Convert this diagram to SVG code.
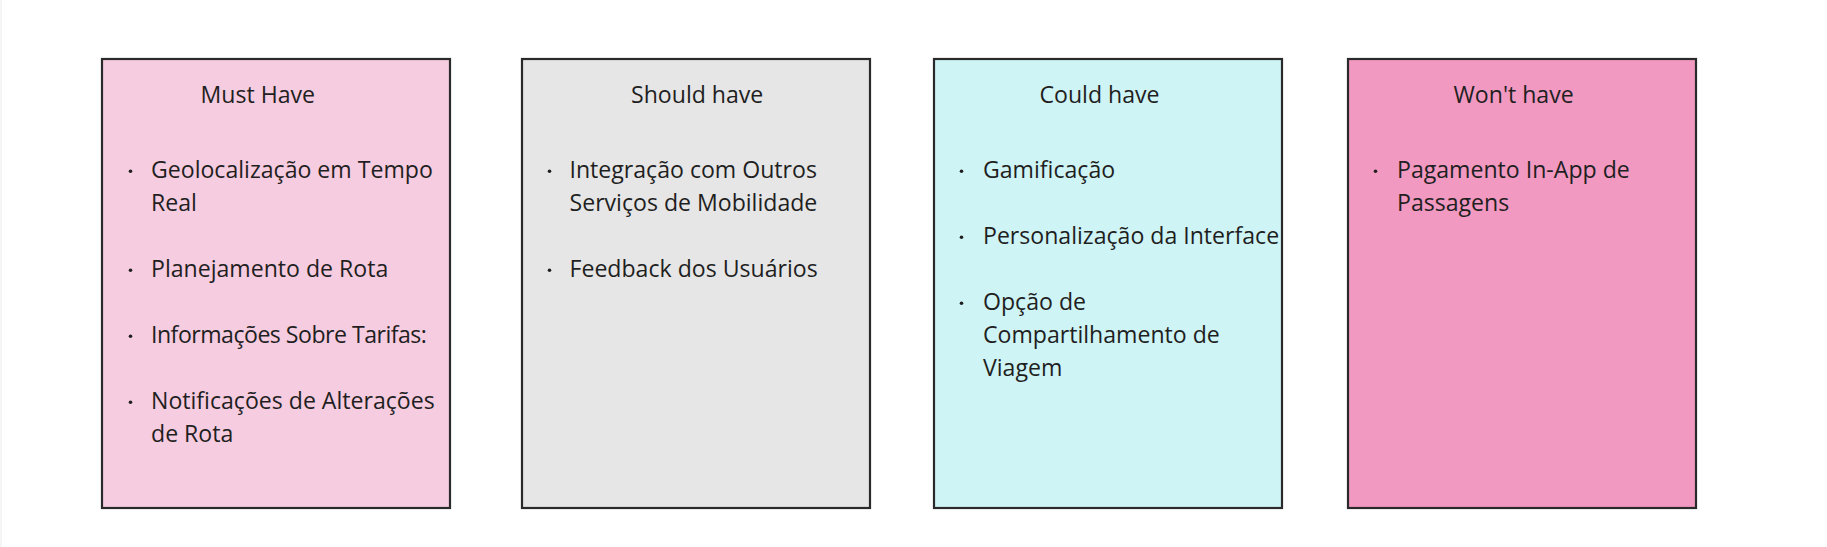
<svg xmlns="http://www.w3.org/2000/svg" width="1827" height="547" viewBox="0 0 1827 547">
<style>
.box{stroke:#2a2a2a;stroke-width:2.2}
.t{font-family:"Open Sans","Noto Sans","Liberation Sans",sans-serif;font-size:23.1px;fill:#1f1f1f}
.b{fill:#1f1f1f}
</style>
<rect x="0" y="0" width="1827" height="547" fill="#ffffff"/>
<line x1="1" y1="0" x2="1" y2="547" stroke="#ececec" stroke-width="1"/>
<g id="must-have">
<rect class="box" x="102" y="59" width="348" height="449" fill="#f6cce0"/>
<text class="t" x="200.5" y="103">Must Have</text>
<circle class="b" cx="130.5" cy="171.3" r="1.8"/>
<text class="t" x="151"><tspan x="151" y="178">Geolocalização em Tempo</tspan><tspan x="151" y="211">Real</tspan></text>
<circle class="b" cx="130.5" cy="270.3" r="1.8"/>
<text class="t" x="151" y="277">Planejamento de Rota</text>
<circle class="b" cx="130.5" cy="336.3" r="1.8"/>
<text class="t" x="151" y="343" style="letter-spacing:-0.5px">Informações Sobre Tarifas:</text>
<circle class="b" cx="130.5" cy="402.3" r="1.8"/>
<text class="t" x="151"><tspan x="151" y="409">Notificações de Alterações</tspan><tspan x="151" y="442">de Rota</tspan></text>
</g>
<g id="should-have">
<rect class="box" x="522" y="59" width="348" height="449" fill="#e6e6e6"/>
<text class="t" x="631" y="103">Should have</text>
<circle class="b" cx="549.5" cy="171.3" r="1.8"/>
<text class="t" x="569.5"><tspan x="569.5" y="178">Integração com Outros</tspan><tspan x="569.5" y="211">Serviços de Mobilidade</tspan></text>
<circle class="b" cx="549.5" cy="270.3" r="1.8"/>
<text class="t" x="569.5" y="277">Feedback dos Usuários</text>
</g>
<g id="could-have">
<rect class="box" x="934" y="59" width="348" height="449" fill="#cff4f5"/>
<text class="t" x="1039.5" y="103">Could have</text>
<circle class="b" cx="961.5" cy="171.3" r="1.8"/>
<text class="t" x="983" y="178">Gamificação</text>
<circle class="b" cx="961.5" cy="237.3" r="1.8"/>
<text class="t" x="983" y="244">Personalização da Interface</text>
<circle class="b" cx="961.5" cy="303.3" r="1.8"/>
<text class="t" x="983"><tspan x="983" y="310">Opção de</tspan><tspan x="983" y="343">Compartilhamento de</tspan><tspan x="983" y="376">Viagem</tspan></text>
</g>
<g id="wont-have">
<rect class="box" x="1348" y="59" width="348" height="449" fill="#f199c1"/>
<text class="t" x="1453.5" y="103">Won't have</text>
<circle class="b" cx="1375.5" cy="171.3" r="1.8"/>
<text class="t" x="1397"><tspan x="1397" y="178">Pagamento In-App de</tspan><tspan x="1397" y="211">Passagens</tspan></text>
</g>
<g id="connectors"/>
</svg>
